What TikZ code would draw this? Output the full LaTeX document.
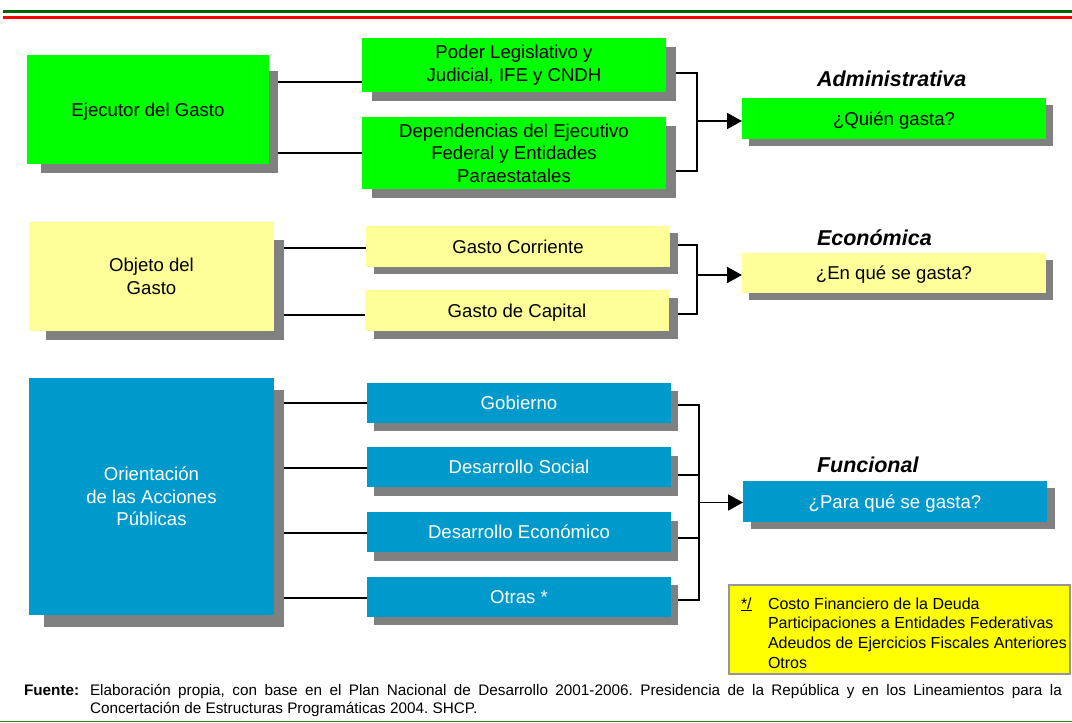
\documentclass[tikz,border=0pt]{standalone}
\usepackage{fontspec}
\setmainfont{Liberation Sans}
\usetikzlibrary{arrows.meta,backgrounds}

\definecolor{boxgreen}{RGB}{0,255,0}
\definecolor{boxyellow}{RGB}{255,255,153}
\definecolor{boxblue}{RGB}{0,153,204}
\definecolor{shadowgray}{RGB}{128,128,128}
\definecolor{headgreen}{RGB}{0,102,0}
\definecolor{headred}{RGB}{255,0,0}
\definecolor{footgreen}{RGB}{40,140,40}
\definecolor{notefill}{RGB}{255,255,0}
\definecolor{notegray}{RGB}{150,150,150}

% flat drop shadow behind a named box, shifted right/down
\newcommand\shadowof[3]{\fill[shadowgray] ([shift={(#2,#3)}]#1.north west) rectangle ([shift={(#2,#3)}]#1.south east);}

\begin{document}
\begin{tikzpicture}[x=1pt,y=-1pt,
  every node/.style={inner sep=0pt, outer sep=0pt},
  box/.style={rectangle, anchor=north west, align=center, font=\fontsize{18.6}{22.5}\selectfont},
  single/.style={text height=16.5pt, text depth=3.5pt},
  greenbox/.style={box, fill=boxgreen},
  yellowbox/.style={box, fill=boxyellow},
  bluebox/.style={box, fill=boxblue, text=white},
  wide/.style={minimum width=304pt},
  cat/.style={anchor=base west, font=\fontsize{21.5}{24}\selectfont\bfseries\itshape},
  conn/.style={draw=black, line width=1.8pt, line join=miter},
  arr/.style={conn, -{Triangle[length=15pt,width=16pt]}},
]
\useasboundingbox (0,0) rectangle (1072,723);

% header rules
\fill[headgreen] (3,10) rectangle (1072,12.8);
\fill[headred] (3,15.8) rectangle (1072,19);

% --- Administrativa ---
\node[greenbox, single, minimum width=242pt, minimum height=109pt] (ejec) at (27,55) {Ejecutor del Gasto};
\node[greenbox, wide, minimum height=54pt] (poder) at (362,38) {Poder Legislativo y\\Judicial, IFE y CNDH};
\node[greenbox, wide, minimum height=72pt] (dep) at (362,117) {Dependencias del Ejecutivo\\Federal y Entidades\\Paraestatales};
\node[greenbox, single, wide, minimum height=41pt] (quien) at (742,98) {¿Quién gasta?};
\node[cat] (adm) at (817,86) {Administrativa};

% --- Económica ---
\node[yellowbox, minimum width=245pt, minimum height=109pt] (obj) at (29,222) {Objeto del\\Gasto};
\node[yellowbox, single, wide, minimum height=41pt] (corr) at (366,226) {Gasto Corriente};
\node[yellowbox, single, wide, minimum height=41pt] (cap) at (365,290) {Gasto de Capital};
\node[yellowbox, single, wide, minimum height=40pt] (enque) at (742,253) {¿En qué se gasta?};
\node[cat] (eco) at (817,245) {Económica};

% --- Funcional ---
\node[bluebox, minimum width=245pt, minimum height=237pt] (orient) at (29,378) {Orientación\\de las Acciones\\Públicas};
\node[bluebox, single, wide, minimum height=40pt] (gob) at (367,383) {Gobierno};
\node[bluebox, single, wide, minimum height=40pt] (ds) at (367,447) {Desarrollo Social};
\node[bluebox, single, wide, minimum height=40pt] (de) at (367,512) {Desarrollo Económico};
\node[bluebox, single, wide, minimum height=40pt] (otras) at (367,577) {Otras *};
\node[bluebox, single, wide, minimum height=41pt] (paraque) at (743,481) {¿Para qué se gasta?};
\node[cat] (fun) at (817,472) {Funcional};

% note box
\node[draw=notegray, fill=notefill, line width=1.2pt, anchor=north west, minimum width=341pt, minimum height=89pt] (note) at (729,585) {};
\node[anchor=base west, font=\fontsize{16}{19.8}\selectfont] (notemark) at (741,609) {\underline{*/}};
\node[anchor=north west, align=left, font=\fontsize{16}{19.8}\selectfont] (notetext) at (768,597.5)
  {Costo Financiero de la Deuda\\Participaciones a Entidades Federativas\\Adeudos de Ejercicios Fiscales Anteriores\\Otros};

% source line
\node[anchor=base west, font=\fontsize{15.3}{18}\selectfont\bfseries] (src) at (24,695) {Fuente:};
\node[anchor=north west, text width=972pt, align=justify, font=\fontsize{15.3}{18}\selectfont\frenchspacing] (srctext) at (90,684)
  {Elaboración propia, con base en el Plan Nacional de Desarrollo 2001-2006. Presidencia de la República y en los Lineamientos para la \mbox{Concertación} de Estructuras Programáticas 2004. SHCP.};
\draw[footgreen, line width=1.5pt] (0,721.5) -- (1072,721.5);

\begin{scope}[on background layer]
  % connectors (drawn first so the shadows cover their ends)
  \coordinate (e1) at (0,81.7);
  \coordinate (e2) at (0,153.3);
  \draw[conn] (ejec.east |- e1) -- (poder.west |- e1);
  \draw[conn] (ejec.east |- e2) -- (dep.west |- e2);
  \coordinate (a1) at (697,73);
  \coordinate (a2) at (697,171);
  \coordinate (a0) at (697,121);
  \draw[conn] (poder.east |- a1) -- (a1) -- (a2) -- (dep.east |- a2);
  \draw[arr] (a0) -- (quien.west |- a0);

  \coordinate (o1) at (0,247.7);
  \coordinate (o2) at (0,315.3);
  \draw[conn] (obj.east |- o1) -- (corr.west |- o1);
  \draw[conn] (obj.east |- o2) -- (cap.west |- o2);
  \coordinate (b1) at (697,245);
  \coordinate (b2) at (697,314);
  \coordinate (b0) at (697,275);
  \draw[conn] (corr.east |- b1) -- (b1) -- (b2) -- (cap.east |- b2);
  \draw[arr] (b0) -- (enque.west |- b0);

  \coordinate (r1) at (0,403.3);
  \coordinate (r2) at (0,468.3);
  \coordinate (r3) at (0,532.7);
  \coordinate (r4) at (0,597.7);
  \draw[conn] (orient.east |- r1) -- (gob.west |- r1);
  \draw[conn] (orient.east |- r2) -- (ds.west |- r2);
  \draw[conn] (orient.east |- r3) -- (de.west |- r3);
  \draw[conn] (orient.east |- r4) -- (otras.west |- r4);
  \coordinate (c1) at (699,405);
  \coordinate (c2) at (699,475.3);
  \coordinate (c3) at (699,537.7);
  \coordinate (c4) at (699,600);
  \coordinate (c0) at (699,502.5);
  \draw[conn] (gob.east |- c1) -- (c1) -- (c4) -- (otras.east |- c4);
  \draw[conn] (ds.east |- c2) -- (c2);
  \draw[conn] (de.east |- c3) -- (c3);
  \draw[arr] (c0) -- (paraque.west |- c0);

  % shadows
  \fill[shadowgray] ([shift={(14,16)}]ejec.north west) rectangle ([shift={(9,9)}]ejec.south east);
  \shadowof{poder}{10}{9}
  \shadowof{dep}{10}{9}
  \shadowof{quien}{7}{7}
  \fill[shadowgray] ([shift={(17,18)}]obj.north west) rectangle ([shift={(10,9)}]obj.south east);
  \shadowof{corr}{8}{7}
  \shadowof{cap}{9}{8}
  \shadowof{enque}{7}{7}
  \fill[shadowgray] ([shift={(15,12)}]orient.north west) rectangle ([shift={(10,12)}]orient.south east);
  \shadowof{gob}{7}{8}
  \shadowof{ds}{7}{8.5}
  \shadowof{de}{7}{8.5}
  \shadowof{otras}{7}{8}
  \shadowof{paraque}{8}{7}
\end{scope}
\end{tikzpicture}
\end{document}
